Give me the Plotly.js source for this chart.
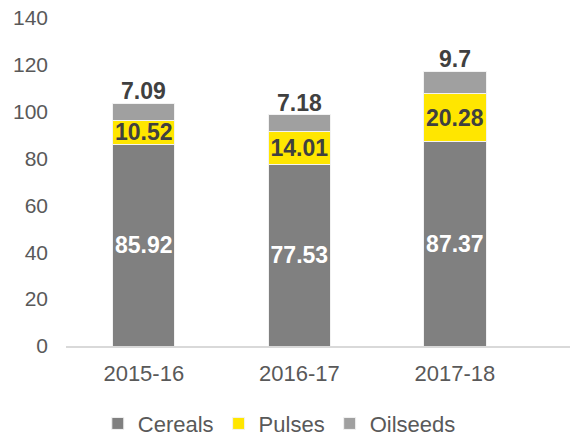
<!DOCTYPE html>
<html>
<head>
<meta charset="utf-8">
<script src="https://cdn.plot.ly/plotly-3.0.1.min.js"></script>
<style>html,body{margin:0;padding:0;background:#fff;}#chart{width:570px;height:439px;}</style>
</head>
<body>
<div id="chart"></div>
<script>
var years = ["2015-16", "2016-17", "2017-18"];
var cereals = [85.92, 77.53, 87.37];
var pulses = [10.52, 14.01, 20.28];
var oilseeds = [7.09, 7.18, 9.7];
var yTicks = [0, 20, 40, 60, 80, 100, 120, 140];

var font = "Liberation Sans, Arial, sans-serif";
function labels(arr){ return arr.map(function(v){ return String(v); }); }

var traces = [
  {
    type: "bar", x: years, y: cereals, width: 0.4, name: "Cereals",
    text: labels(cereals), textposition: "inside", insidetextanchor: "middle",
    constraintext: "none", hoverinfo: "none", textangle: 0,
    marker: {color: "#808080", line: {color: "#f2f2f2", width: 1}},
    textfont: {family: font, size: 23, color: "#ffffff", weight: "bold"}
  },
  {
    type: "bar", x: years, y: pulses, width: 0.4, name: "Pulses",
    text: labels(pulses), textposition: "inside", insidetextanchor: "middle",
    constraintext: "none", hoverinfo: "none", textangle: 0,
    marker: {color: "#ffe600", line: {color: "#f2f2f2", width: 1}},
    textfont: {family: font, size: 23, color: "#404040", weight: "bold"}
  },
  {
    type: "bar", x: years, y: oilseeds, width: 0.4, name: "Oilseeds",
    hoverinfo: "none", textposition: "none",
    marker: {color: "#a0a0a0", line: {color: "#f2f2f2", width: 1}}
  }
];

var annotations = years.map(function(yr, i){
  return {
    x: yr, y: cereals[i] + pulses[i] + oilseeds[i], xref: "x", yref: "y",
    text: "<b>" + oilseeds[i] + "</b>", showarrow: false,
    xanchor: "center", yanchor: "bottom", yshift: -3,
    font: {family: font, size: 23, color: "#404040"}
  };
});

var layout = {
  width: 570, height: 439,
  margin: {l: 66, r: 0, t: 18, b: 93},
  barmode: "stack",
  paper_bgcolor: "#ffffff", plot_bgcolor: "#ffffff",
  font: {family: font, size: 21, color: "#595959"},
  showlegend: true,
  annotations: annotations,
  legend: {
    orientation: "h", xref: "container", x: 0.49, xanchor: "center",
    yref: "container", y: 0.035, yanchor: "middle",
    font: {family: font, size: 22, color: "#595959"},
    traceorder: "normal", itemwidth: 30
  },
  xaxis: {
    type: "category", range: [-0.5, 2.74],
    showline: true, linecolor: "#d9d9d9", linewidth: 1.5,
    showgrid: false, zeroline: false, ticks: "",
    tickfont: {family: font, size: 22, color: "#595959"},
    ticklabelstandoff: 7
  },
  yaxis: {
    range: [0, 140], tickvals: yTicks, ticktext: yTicks.map(String),
    showline: false, showgrid: false, zeroline: false, ticks: "",
    tickfont: {family: font, size: 21, color: "#595959"},
    ticklabelstandoff: 17
  }
};

Plotly.newPlot("chart", traces, layout, {staticPlot: true, displayModeBar: false});
</script>
</body>
</html>
